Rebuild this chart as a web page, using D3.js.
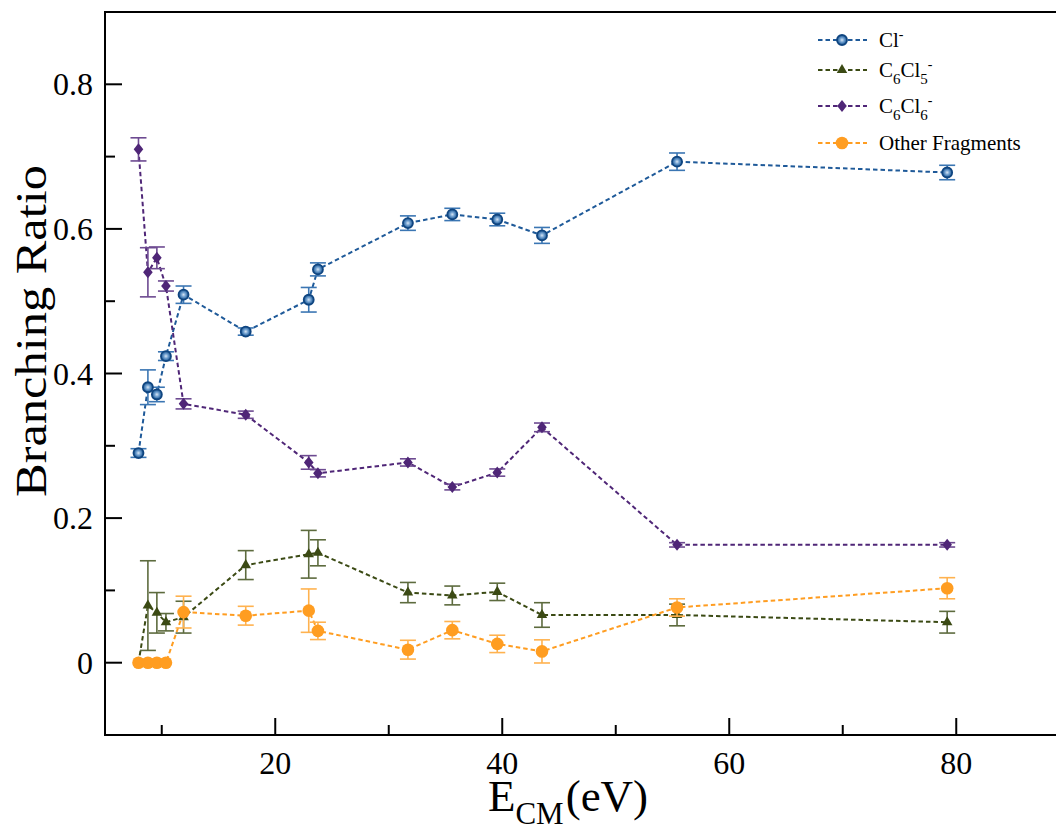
<!DOCTYPE html>
<html>
<head>
<meta charset="utf-8">
<script src="https://cdn.jsdelivr.net/npm/d3@7"></script>
<style>
  html, body { margin: 0; padding: 0; background: #fff; }
  svg { display: block; font-family: "Liberation Serif", "Times New Roman", serif; }
</style>
</head>
<body>
<script>
const width = 1056;
const height = 834;

// collision energy (eV) shared by every series
const energy = [7.95, 8.78, 9.57, 10.37, 11.92, 17.4, 22.95, 23.76, 31.69, 35.6, 39.56, 43.5, 55.4, 79.2];

const clMinus    = [0.290, 0.381, 0.371, 0.424, 0.509, 0.458, 0.502, 0.544, 0.608, 0.620, 0.613, 0.591, 0.693, 0.678];
const clMinusErr = [0.006, 0.024, 0.010, 0.006, 0.012, 0.005, 0.017, 0.009, 0.010, 0.0085, 0.0087, 0.011, 0.012, 0.010];

const c6cl5      = [0, 0.079, 0.069, 0.056, 0.063, 0.135, 0.150, 0.152, 0.097, 0.093, 0.098, 0.066, 0.066, 0.056];
const c6cl5Err   = [0, 0.062, 0.028, 0.012, 0.022, 0.020, 0.033, 0.018, 0.014, 0.013, 0.012, 0.017, 0.015, 0.015];

const c6cl6      = [0.710, 0.540, 0.560, 0.521, 0.358, 0.343, 0.277, 0.262, 0.277, 0.243, 0.263, 0.3255, 0.163, 0.163];
const c6cl6Err   = [0.016, 0.034, 0.015, 0.007, 0.007, 0.005, 0.0094, 0.005, 0.005, 0.004, 0.005, 0.006, 0.003, 0.003];

const otherFrag    = [0, 0, 0, 0, 0.070, 0.065, 0.072, 0.044, 0.018, 0.045, 0.026, 0.0156, 0.0764, 0.103];
const otherFragErr = [0, 0, 0, 0, 0.022, 0.013, 0.030, 0.012, 0.013, 0.012, 0.012, 0.016, 0.012, 0.0146];

const xMajor = [20, 40, 60, 80];
const xMinor = [10, 30, 50, 70];
const yMajor = [0, 0.2, 0.4, 0.6, 0.8];
const yMinor = [-0.1, 0.1, 0.3, 0.5, 0.7];

const margin = { top: 12, left: 105, bottom: 735 };

const x = d3.scaleLinear().domain([5, 89]).range([margin.left, margin.left + 84 * 11.35]);
const y = d3.scaleLinear().domain([-0.1, 0.9]).range([margin.bottom, margin.top]);

const svg = d3.select("body").append("svg")
  .attr("width", width)
  .attr("height", height)
  .attr("viewBox", [0, 0, width, height]);

const defs = svg.append("defs");
const grad = defs.append("radialGradient")
  .attr("id", "ballBlue")
  .attr("cx", "50%").attr("cy", "50%").attr("r", "50%");
grad.append("stop").attr("offset", "0%").attr("stop-color", "#d7e6f5");
grad.append("stop").attr("offset", "45%").attr("stop-color", "#6f9fcf");
grad.append("stop").attr("offset", "100%").attr("stop-color", "#14508e");

const series = [
  { name: "cl", values: clMinus, errs: clMinusErr, line: "#1f5a99", bar: "#3b76b3", marker: "circleBall" },
  { name: "c6cl5", values: c6cl5, errs: c6cl5Err, line: "#3b4a14", bar: "#5d6b3e", marker: "triangle" },
  { name: "c6cl6", values: c6cl6, errs: c6cl6Err, line: "#4f2677", bar: "#6d4a91", marker: "diamond" },
  { name: "other", values: otherFrag, errs: otherFragErr, line: "#ff9d21", bar: "#ffb24f", marker: "circle" }
];

function drawMarker(sel, kind, color) {
  if (kind === "circleBall") {
    sel.append("circle").attr("r", 5)
      .attr("fill", "url(#ballBlue)")
      .attr("stroke", "#0f4580").attr("stroke-width", 1.8);
  } else if (kind === "circle") {
    sel.append("circle").attr("r", 6.3).attr("fill", color);
  } else if (kind === "triangle") {
    sel.append("path").attr("d", d3.symbol(d3.symbolTriangle, 48)()).attr("fill", color);
  } else {
    sel.append("path").attr("d", "M0,-6 L4.8,0 L0,6 L-4.8,0 Z").attr("fill", color);
  }
}

const plot = svg.append("g");

series.forEach(s => {
  const pts = energy.map((e, i) => ({ e, v: s.values[i], err: s.errs[i] }));
  const g = plot.append("g").attr("class", "series-" + s.name);

  g.append("path")
    .datum(pts)
    .attr("fill", "none")
    .attr("stroke", s.line)
    .attr("stroke-width", 2)
    .attr("stroke-dasharray", "4.5,3")
    .attr("d", d3.line().x(d => x(d.e)).y(d => y(d.v)));

  const eb = g.selectAll(".err")
    .data(pts.filter(d => d.err > 0))
    .join("g")
    .attr("class", "err")
    .attr("stroke", s.bar)
    .attr("stroke-width", 1.6);
  eb.append("line")
    .attr("x1", d => x(d.e)).attr("x2", d => x(d.e))
    .attr("y1", d => y(d.v - d.err)).attr("y2", d => y(d.v + d.err));
  eb.append("line")
    .attr("x1", d => x(d.e) - 8).attr("x2", d => x(d.e) + 8)
    .attr("y1", d => y(d.v + d.err)).attr("y2", d => y(d.v + d.err));
  eb.append("line")
    .attr("x1", d => x(d.e) - 8).attr("x2", d => x(d.e) + 8)
    .attr("y1", d => y(d.v - d.err)).attr("y2", d => y(d.v - d.err));

  g.selectAll(".pt")
    .data(pts)
    .join("g")
    .attr("class", "pt")
    .attr("transform", d => `translate(${x(d.e)},${y(d.v)})`)
    .each(function () { drawMarker(d3.select(this), s.marker, s.line); });
});

// axes frame
const axes = svg.append("g").attr("stroke", "#000").attr("stroke-width", 2);
axes.append("line").attr("x1", margin.left).attr("x2", width).attr("y1", margin.top).attr("y2", margin.top);
axes.append("line").attr("x1", margin.left).attr("x2", margin.left).attr("y1", margin.top - 1).attr("y2", margin.bottom + 1);
axes.append("line").attr("x1", margin.left - 1).attr("x2", width).attr("y1", margin.bottom).attr("y2", margin.bottom);

// ticks point inward
axes.selectAll(".xmaj").data(xMajor).join("line")
  .attr("x1", d => x(d)).attr("x2", d => x(d))
  .attr("y1", margin.bottom).attr("y2", margin.bottom - 17);
axes.selectAll(".xmin").data(xMinor).join("line")
  .attr("x1", d => x(d)).attr("x2", d => x(d))
  .attr("y1", margin.bottom).attr("y2", margin.bottom - 10);
axes.selectAll(".ymaj").data(yMajor).join("line")
  .attr("x1", margin.left).attr("x2", margin.left + 17)
  .attr("y1", d => y(d)).attr("y2", d => y(d));
axes.selectAll(".ymin").data(yMinor).join("line")
  .attr("x1", margin.left).attr("x2", margin.left + 10)
  .attr("y1", d => y(d)).attr("y2", d => y(d));

svg.append("g").selectAll("text").data(xMajor).join("text")
  .attr("x", d => x(d)).attr("y", margin.bottom + 39)
  .attr("text-anchor", "middle")
  .attr("font-size", 32)
  .text(d => d);

svg.append("g").selectAll("text").data(yMajor).join("text")
  .attr("x", margin.left - 12).attr("y", d => y(d) + 11)
  .attr("text-anchor", "end")
  .attr("font-size", 32)
  .text(d => d === 0 ? "0" : d3.format(".1f")(d));

// axis titles
const xt = svg.append("text")
  .attr("x", 568).attr("y", 811)
  .attr("text-anchor", "middle")
  .attr("font-size", 45);
xt.append("tspan").text("E");
xt.append("tspan").attr("font-size", 31).attr("dy", 13).text("CM");
xt.append("tspan").attr("dy", -13).attr("dx", 2).text("(eV)");

svg.append("text")
  .attr("transform", "translate(46,331) rotate(-90)")
  .attr("text-anchor", "middle")
  .attr("font-size", 45)
  .attr("textLength", 332)
  .attr("lengthAdjust", "spacingAndGlyphs")
  .text("Branching Ratio");

// legend
const legendRows = [
  { s: series[0], parts: [["Cl", 0, 21], ["-", -8, 14]] },
  { s: series[1], parts: [["C", 0, 21], ["6", 7, 15], ["Cl", -7, 21], ["5", 7, 15], ["-", -15, 14]] },
  { s: series[2], parts: [["C", 0, 21], ["6", 7, 15], ["Cl", -7, 21], ["6", 7, 15], ["-", -15, 14]] },
  { s: series[3], parts: [["Other Fragments", 0, 21]] }
];
const legendY = [40, 70, 106, 143];

const legend = svg.append("g");
legendRows.forEach((row, i) => {
  const g = legend.append("g").attr("transform", `translate(818,${legendY[i]})`);
  g.append("line").attr("x1", 0).attr("x2", 49).attr("y1", 0).attr("y2", 0)
    .attr("stroke", row.s.line).attr("stroke-width", 2).attr("stroke-dasharray", "4.5,3");
  drawMarker(g.append("g").attr("transform", "translate(24,0)"), row.s.marker, row.s.line);
  const t = g.append("text").attr("x", 61).attr("y", 7).attr("font-size", 21);
  row.parts.forEach(([txt, dy, fs]) => {
    t.append("tspan").attr("dy", dy).attr("font-size", fs).text(txt);
  });
});
</script>
</body>
</html>
